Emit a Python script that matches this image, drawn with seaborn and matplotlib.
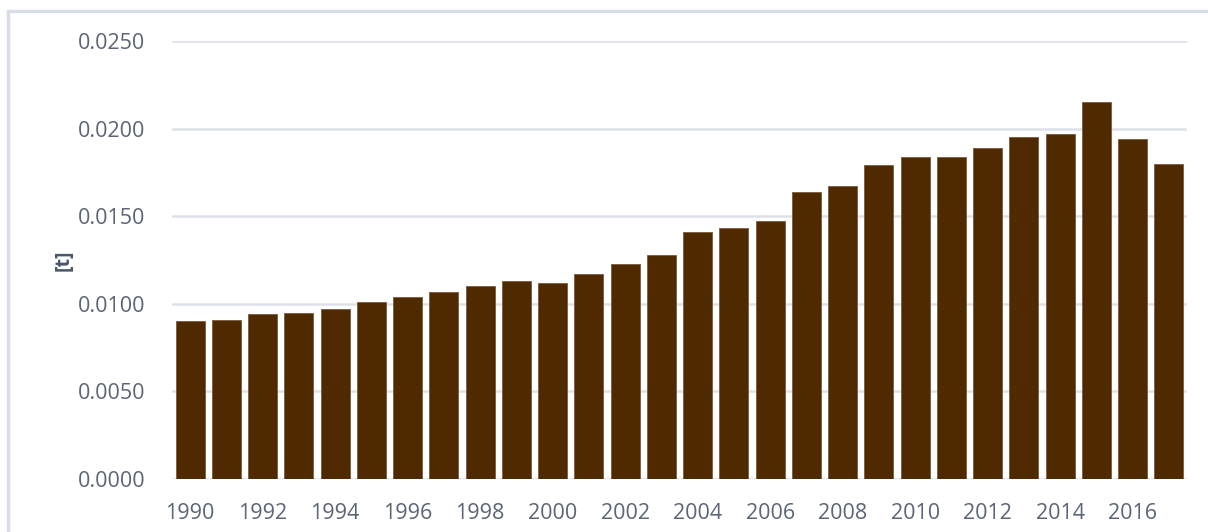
import matplotlib
matplotlib.use("Agg")
import matplotlib.pyplot as plt
import seaborn as sns
import pandas as pd
from matplotlib.patches import Rectangle

years = list(range(1990, 2018))
values = [0.0090, 0.0091, 0.0094, 0.0095, 0.0097, 0.0101, 0.0104, 0.0107, 0.0110,
          0.0113, 0.0112, 0.0117, 0.0123, 0.0128, 0.0141, 0.0143, 0.0147, 0.0164,
          0.0167, 0.0179, 0.0184, 0.0184, 0.0189, 0.0195, 0.0197, 0.0215, 0.0194,
          0.0180]
yticks = [0.0, 0.005, 0.010, 0.015, 0.020, 0.025]
ytick_labels = ["0.0000", "0.0050", "0.0100", "0.0150", "0.0200", "0.0250"]
ylabel = "[t]"

df = pd.DataFrame({"year": [str(y) for y in years], "value": values})

sns.set_theme(style="white")
plt.rcParams['font.family'] = ['Open Sans', 'DejaVu Sans']

fig = plt.figure(figsize=(12.08, 5.32), dpi=100)
ax = fig.add_axes([172/1208, 1-479/532, (1187-172)/1208, (479-41)/532])

# outer frame
fig.patches.append(Rectangle((8/1208, -0.1), 1.2, 1 - 11/532 + 0.1, transform=fig.transFigure,
                             fill=False, edgecolor="#d9dde6", linewidth=2.5, zorder=0))

sns.barplot(data=df, x="year", y="value", color="#4f2a00", saturation=1, width=0.8,
            edgecolor="#7a5a3a", linewidth=0.6, ax=ax, zorder=3)

ax.set_ylim(0, 0.025)
ax.set_xlim(-0.5, len(years) - 0.5)
ax.set_yticks(yticks)
ax.set_yticklabels(ytick_labels)
ax.set_xticks(range(0, len(years), 2))
ax.set_xticklabels([str(y) for y in years[::2]])
ax.grid(axis="y", color="#dde1ea", linewidth=1.8, zorder=0)
ax.set_axisbelow(True)
for s in ax.spines.values():
    s.set_visible(False)
ax.tick_params(axis="both", length=0, labelsize=15.5, labelcolor="#5b6577")
ax.tick_params(axis="y", pad=19)
ax.tick_params(axis="x", pad=17)
ax.set_xlabel("")
ax.set_ylabel(ylabel, fontsize=14, fontweight="bold", color="#4a5568", labelpad=3)

fig.savefig("out.png", dpi=100)
